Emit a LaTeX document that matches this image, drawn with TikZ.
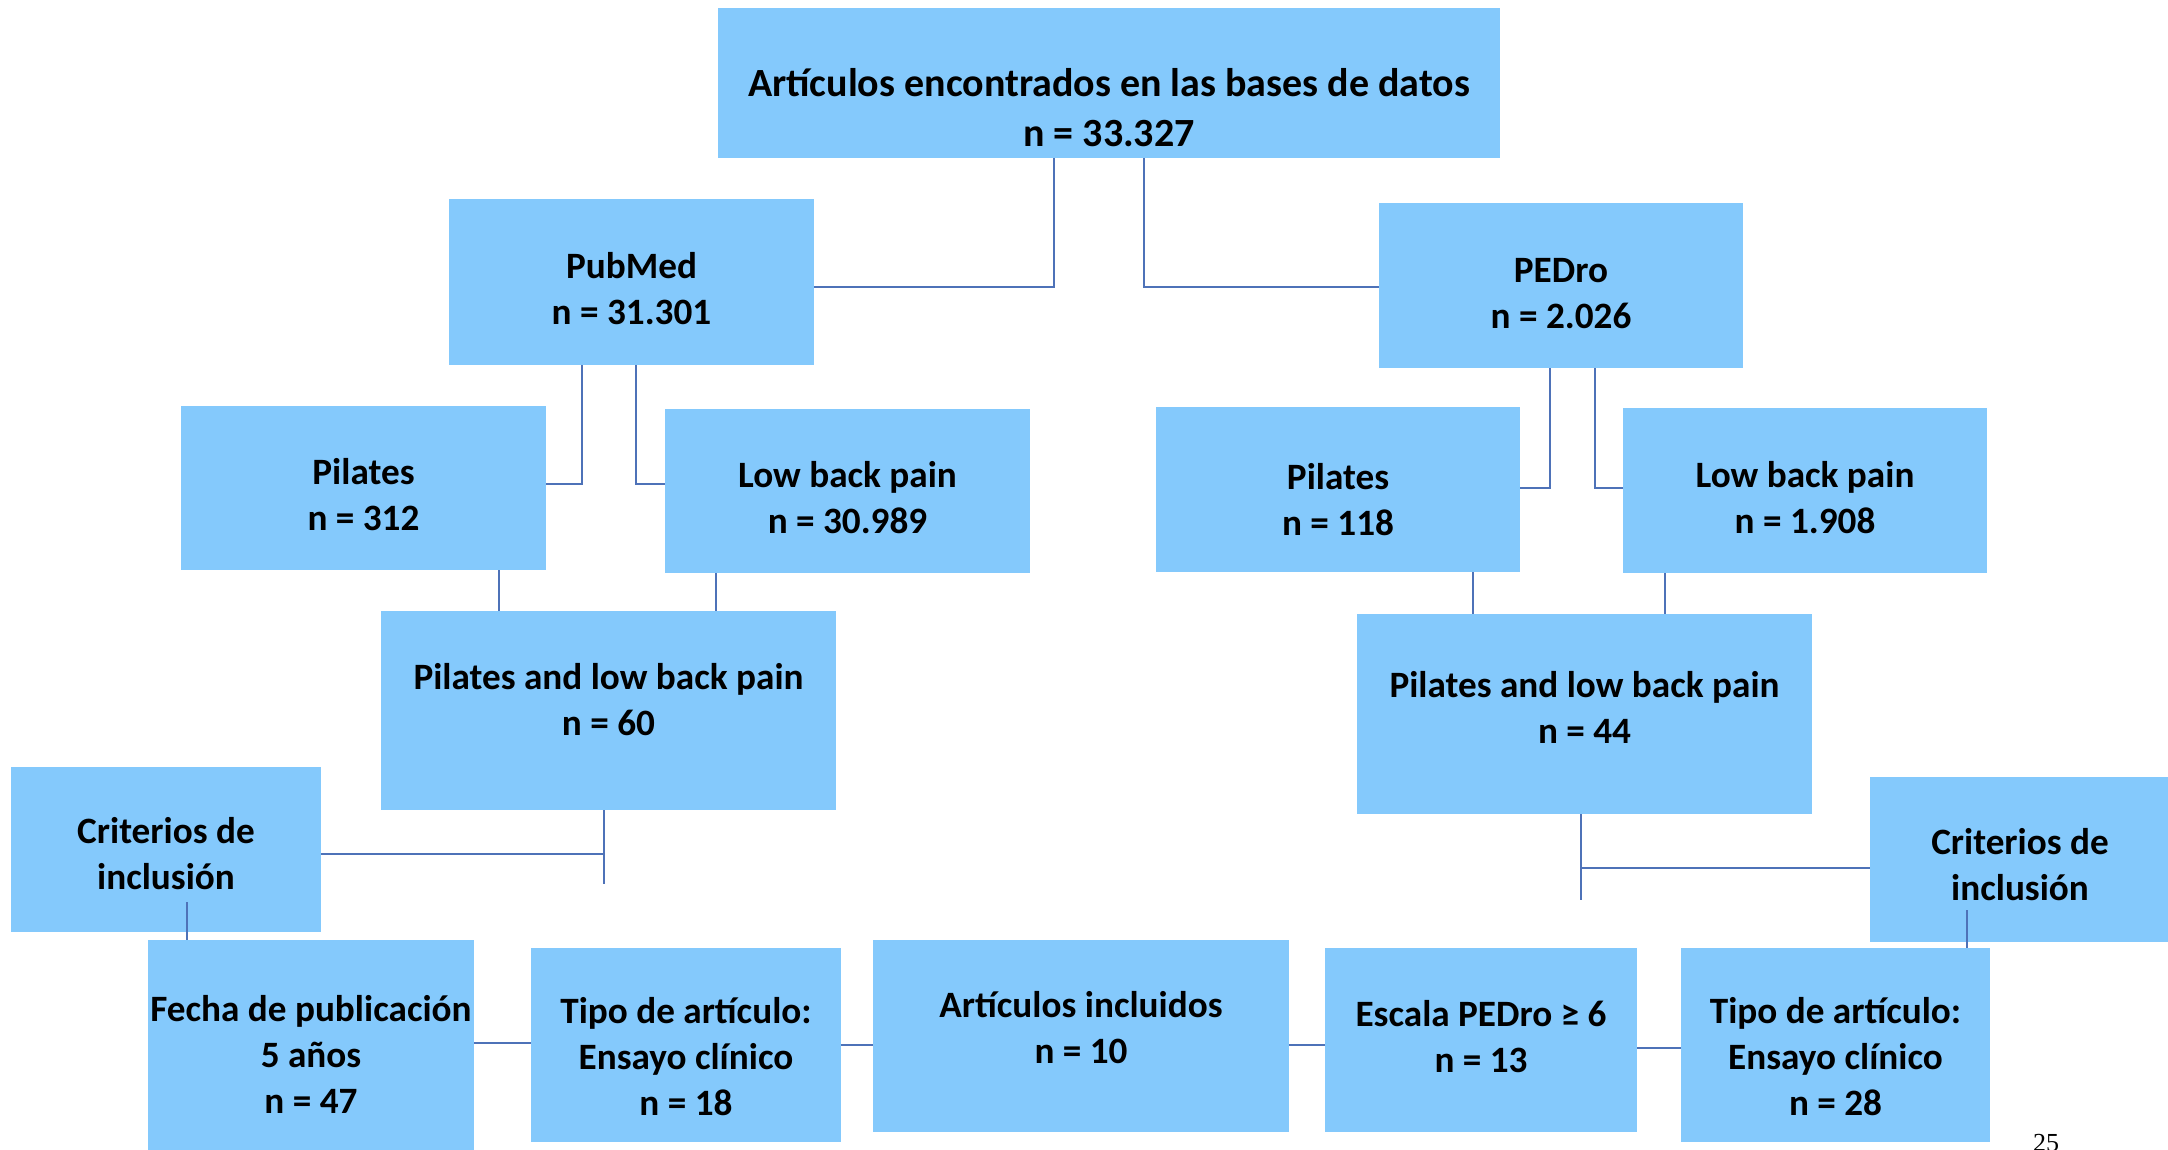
\documentclass[tikz,border=0pt]{standalone}
\usepackage{fontspec}
\setmainfont{Carlito}
\newfontfamily\pnfont{Liberation Serif}
\definecolor{boxfill}{HTML}{84C9FC}
\definecolor{linec}{HTML}{4E72B8}
\newcommand\mkbox[8][txt]{%
  \pgfmathsetmacro\bxw{(#5-#3)*0.5}%
  \pgfmathsetmacro\bxh{(#6-#4)*0.5}%
  \node[box, minimum width=\bxw pt, minimum height=\bxh pt] (#2) at ({(#3+#5)/2},{(#4+#6)/2}) {};
  \node[#1] (#2-t) at ([yshift={-(#7)*0.5pt}]#2.center) {#8};
}
\begin{document}
\begin{tikzpicture}[x=0.5pt,y=-0.5pt,
  box/.style={fill=boxfill, draw=none, inner sep=0pt},
  txt/.style={inner sep=0pt, align=center,
    font=\bfseries\fontsize{18.6pt}{23pt}\selectfont},
  bigtxt/.style={txt, font=\bfseries\fontsize{20pt}{25pt}\selectfont},
  conn/.style={draw=linec, line width=0.75pt}]
\useasboundingbox (0,0) rectangle (2168,1150);

\mkbox[bigtxt]{top}{718}{8}{1500}{158}{25}{Artículos encontrados en las bases de datos\\n = 33.327}
\mkbox{pub}{449}{199}{814}{365}{7}{PubMed\\n = 31.301}
\mkbox{ped}{1379}{203}{1743}{368}{8}{PEDro\\n = 2.026}
\mkbox{pilL}{181}{406}{546}{570}{7}{Pilates\\n = 312}
\mkbox{lbpL}{665}{409}{1030}{573}{7}{Low back pain\\n = 30.989}
\mkbox{pilR}{1156}{407}{1520}{572}{10}{Pilates\\n = 118}
\mkbox{lbpR}{1623}{408}{1987}{573}{7}{Low back pain\\n = 1.908}
\mkbox{palL}{381}{611}{836}{810}{-11}{Pilates and low back pain\\n = 60}
\mkbox{palR}{1357}{614}{1812}{814}{-7}{Pilates and low back pain\\n = 44}
\mkbox{critL}{11}{767}{321}{932}{4}{Criterios de\\inclusión}
\mkbox{critR}{1870}{777}{2170}{942}{5}{Criterios de\\inclusión}
\mkbox{fecha}{148}{940}{474}{1152}{8}{Fecha de publicación\\5 años\\n = 47}
\mkbox{tipoL}{531}{948}{841}{1142}{12}{Tipo de artículo:\\Ensayo clínico\\n = 18}
\mkbox{art}{873}{940}{1289}{1132}{-8}{Artículos incluidos\\n = 10}
\mkbox{esc}{1325}{948}{1637}{1132}{-3}{Escala PEDro ≥ 6\\n = 13}
\mkbox{tipoR}{1681}{948}{1990}{1142}{12}{Tipo de artículo:\\Ensayo clínico\\n = 28}

% connectors
\draw[conn] (1054,0 |- top.south) |- (pub.east |- 0,287);
\draw[conn] (1144,0 |- top.south) |- (ped.west |- 0,287);
\draw[conn] (582,0 |- pub.south) |- (pilL.east |- 0,484);
\draw[conn] (636,0 |- pub.south) |- (lbpL.west |- 0,484);
\draw[conn] (1550,0 |- ped.south) |- (pilR.east |- 0,488);
\draw[conn] (1595,0 |- ped.south) |- (lbpR.west |- 0,488);
\draw[conn] (499,0 |- pilL.south) -- (499,0 |- palL.north);
\draw[conn] (716,0 |- lbpL.south) -- (716,0 |- palL.north);
\draw[conn] (1473,0 |- pilR.south) -- (1473,0 |- palR.north);
\draw[conn] (1665,0 |- lbpR.south) -- (1665,0 |- palR.north);
\coordinate (jL) at (604,884);
\coordinate (jR) at (1581,900);
\draw[conn] (604,0 |- palL.south) -- (jL);
\draw[conn] (critL.east |- 0,854) -- (604,854);
\draw[conn] (1581,0 |- palR.south) -- (jR);
\draw[conn] (critR.west |- 0,868) -- (1581,868);
\coordinate (cL) at (187,902);
\coordinate (cR) at (1967,910);
\draw[conn] (cL) -- (187,0 |- fecha.north);
\draw[conn] (cR) -- (1967,0 |- tipoR.north);
\draw[conn] (fecha.east |- 0,1043) -- (tipoL.west |- 0,1043);
\draw[conn] (tipoL.east |- 0,1045) -- (art.west |- 0,1045);
\draw[conn] (art.east |- 0,1045) -- (esc.west |- 0,1045);
\draw[conn] (esc.east |- 0,1048) -- (tipoR.west |- 0,1048);

\node[anchor=base, font=\pnfont\fontsize{13pt}{15pt}\selectfont, inner sep=0pt] (pn) at (2046,1151) {25};
\end{tikzpicture}
\end{document}
